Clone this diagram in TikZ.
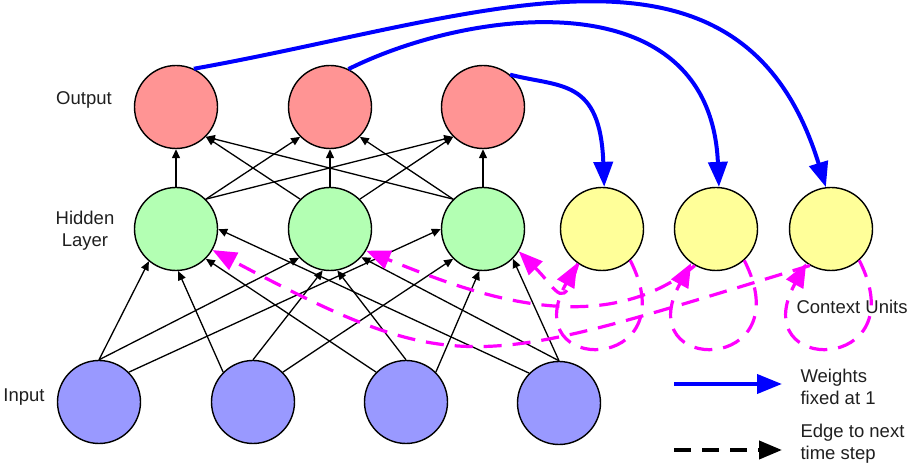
\documentclass[tikz,border=0pt]{standalone}
\usepackage{fontspec}
\setmainfont{Liberation Sans}
\usetikzlibrary{arrows.meta}

\definecolor{outcol}{RGB}{255,148,148}
\definecolor{hidcol}{RGB}{179,255,179}
\definecolor{ctxcol}{RGB}{255,255,153}
\definecolor{incol}{RGB}{153,153,255}
\definecolor{stepcol}{RGB}{255,0,255}
\definecolor{wcol}{RGB}{0,0,255}

\begin{document}
\begin{tikzpicture}[x=1pt, y=1pt,
    unit/.style={circle, draw, line width=1.4pt, minimum size=83pt, inner sep=0pt},
    link/.style={line width=1.3pt, -{Triangle[length=9pt,width=8pt]}},
    weight/.style={wcol, line width=4pt, -{Triangle[length=25pt,width=19pt]}},
    nextstep/.style={stepcol, line width=3.2pt, dash pattern=on 18pt off 11pt, -{Triangle[length=24pt,width=19pt]}},
    legdash/.style={line width=4pt, dash pattern=on 17pt off 11pt, -{Triangle[length=23pt,width=18pt]}},
    lbl/.style={font=\fontsize{18.5}{22}\selectfont, align=center, text=black!88}]
    \useasboundingbox (0,0) rectangle (912,468);

    % units
    \node[unit, fill=outcol] (o1) at (176,361) {};
    \node[unit, fill=outcol] (o2) at (330,361) {};
    \node[unit, fill=outcol] (o3) at (483,361) {};
    \node[unit, fill=hidcol] (h1) at (176,239) {};
    \node[unit, fill=hidcol] (h2) at (330,239) {};
    \node[unit, fill=hidcol] (h3) at (483,239) {};
    \node[unit, fill=ctxcol] (c1) at (602,239) {};
    \node[unit, fill=ctxcol] (c2) at (716,239) {};
    \node[unit, fill=ctxcol] (c3) at (831,239) {};
    \node[unit, fill=incol] (i1) at (99,66) {};
    \node[unit, fill=incol] (i2) at (253,66) {};
    \node[unit, fill=incol] (i3) at (406,66) {};
    \node[unit, fill=incol] (i4) at (559,65) {};

    % labels
    \node[lbl] (outlbl) at (84,368) {Output};
    \node[lbl] (hidlbl) at (85,237) {Hidden\\Layer};
    \node[lbl] (inlbl) at (24,71) {Input};
    \node[lbl, anchor=west] (ctxlbl) at (793,161) {Context Units};

    % hidden -> output
    \foreach \a/\b in {h1.90/o1.-90, h1.45/o2.-135, h1.45/o3.-135,
                       h2.135/o1.-45, h2.90/o2.-90, h2.45/o3.-135,
                       h3.135/o1.-45, h3.135/o2.-45, h3.90/o3.-90}
        \draw[link] (\a) -- (\b);

    % input -> hidden
    \foreach \a/\b in {i1.90/h1.-130, i1.90/h2.-137, i1.45/h3.180,
                       i2.135/h1.-87, i2.90/h2.-100, i2.45/h3.-135,
                       i3.135/h1.-45, i3.90/h2.-80, i3.45/h3.-95,
                       i4.135/h1.0, i4.90/h2.-42, i4.90/h3.-45}
        \draw[link] (\a) -- (\b);

    % output -> context
    \draw[weight] (o1.65) .. controls +(286,51) and +(-86,279) .. (c3.97);
    \draw[weight] (o2.64) .. controls +(122,61) and +(-9,209) .. (c2.86);
    \draw[weight] (o3.50) .. controls +(50,-13) and +(-4,109) .. (c1.87);

    % context -> next step
    \foreach \c in {c1,c2,c3}
        \draw[nextstep] (\c.-48) .. controls +(58,-114) and +(-62,-113) .. (\c.-126);
    \draw[nextstep] (c3.-120) .. controls +(-335,-102) and +(247,-131) .. (h1.-30);
    \draw[nextstep] (c2.-120) .. controls +(-95,-78) and +(104,-42) .. (h2.-31);
    \draw[nextstep] (c1.-125) .. controls +(-15,-50) and +(40,-40) .. (h3.-32);

    % legend
    \coordinate (wa) at (674,84);
    \coordinate (wb) at (782,84);
    \coordinate (ea) at (674,18);
    \coordinate (eb) at (782,18);
    \draw[weight] (wa) -- (wb);
    \draw[legdash] (ea) -- (eb);
    \node[lbl, anchor=west, align=left] (wlbl) at (797,81) {Weights\\fixed at 1};
    \node[lbl, anchor=west, align=left] (elbl) at (797,24) {Edge to next\\time step};
\end{tikzpicture}
\end{document}
